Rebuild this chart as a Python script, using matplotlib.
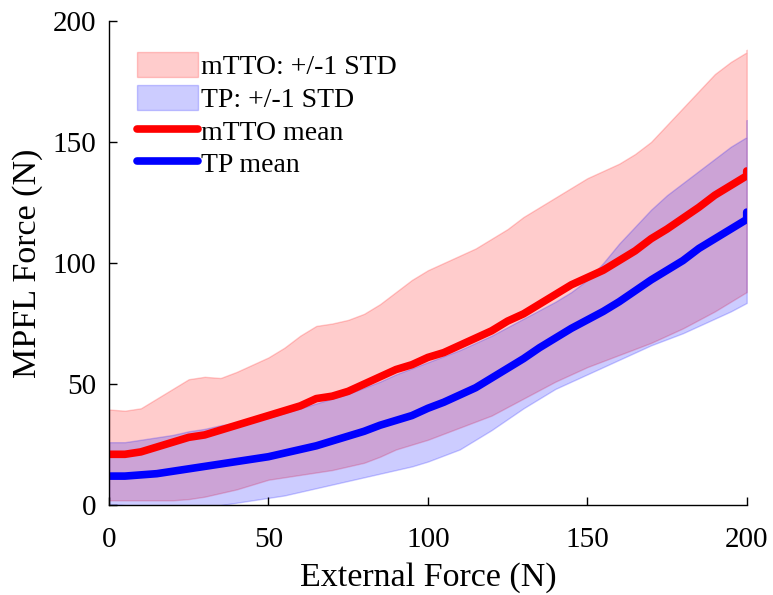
import numpy as np
import matplotlib
matplotlib.use('Agg')
import matplotlib.pyplot as plt

plt.rcParams['font.family'] = ['Liberation Serif', 'DejaVu Serif']

# External force (N); the last point repeats 200 to keep the small end hook
ext_force = [0, 5, 10, 15, 20, 25, 30, 35, 40, 45, 50, 55, 60, 65, 70, 75, 80, 85, 90, 95,
             100, 105, 110, 115, 120, 125, 130, 135, 140, 145, 150, 155, 160, 165, 170, 175,
             180, 185, 190, 195, 200, 200]

mtto_mean = [21, 21, 22, 24, 26, 28, 29, 31, 33, 35, 37, 39, 41, 44, 45, 47, 50, 53, 56, 58,
             61, 63, 66, 69, 72, 76, 79, 83, 87, 91, 94, 97, 101, 105, 110, 114,
             118.5, 123, 128, 132, 136, 138]
mtto_upper = [39.5, 39, 40, 44, 48, 52, 53, 52.5, 55, 58, 61, 65, 70, 74, 75, 76.5, 79, 83, 88, 93,
              97, 100, 103, 106, 110, 114, 119, 123, 127, 131, 135, 138, 141, 145, 150, 157,
              164, 171, 178, 183, 187, 188]
mtto_lower = [2, 2, 2, 2, 2, 2.5, 3.5, 5, 6.5, 8.5, 10.5, 11.5, 12.5, 13.5, 14.5, 16, 17.5, 20, 23, 25,
              27, 29.5, 32, 34.5, 37, 40.5, 44, 47.5, 51, 54, 57, 59.5, 62, 64.5, 67, 70,
              73, 76.5, 80, 84, 88, 88]

tp_mean = [12, 12, 12.5, 13, 14, 15, 16, 17, 18, 19, 20, 21.5, 23, 24.5, 26.5, 28.5, 30.5, 33, 35, 37,
           40, 42.5, 45.5, 48.5, 52.5, 56.5, 60.5, 65, 69, 73, 76.5, 80, 84, 88.5, 93, 97,
           101, 106, 110, 114, 118, 121]
tp_upper = [26, 26, 27, 28, 29, 30.5, 31.5, 33, 34, 35, 36, 38, 40, 42, 44, 46, 48.5, 51, 54, 56.5,
            59, 61.5, 64, 67, 70, 73.5, 77, 80.5, 84, 88, 93, 100, 108, 115, 122, 128,
            133, 138, 143, 148, 152, 159]
tp_lower = [0.5, 0, -1, -2, -3, -3, -1.5, 0, 1, 2, 3, 4, 5.5, 7, 8.5, 10, 11.5, 13, 14.5, 16,
            18, 20.5, 23, 27, 31, 35.5, 40, 44, 48, 51, 54, 57, 60, 63, 66, 68.5,
            71, 74, 77, 80, 83.5, 86]

fig = plt.figure(figsize=(7.73, 5.95), dpi=100)
ax = fig.add_axes([0.141, 0.151, 0.825, 0.814])

ax.fill_between(ext_force, mtto_lower, mtto_upper, facecolor=(1, 0, 0, 0.2),
                edgecolor=(1, 0, 0, 0.2), linewidth=1, label='mTTO: +/-1 STD')
ax.fill_between(ext_force, tp_lower, tp_upper, facecolor=(0, 0, 1, 0.2),
                edgecolor=(0, 0, 1, 0.2), linewidth=1, label='TP: +/-1 STD')
ax.plot(ext_force, mtto_mean, color='red', linewidth=5.5, solid_capstyle='round',
        solid_joinstyle='round', label='mTTO mean')
ax.plot(ext_force, tp_mean, color='blue', linewidth=5.5, solid_capstyle='round',
        solid_joinstyle='round', label='TP mean')

ax.set_xlim(0, 200)
ax.set_ylim(0, 200)
ax.set_xticks([0, 50, 100, 150, 200])
ax.set_yticks([0, 50, 100, 150, 200])
ax.tick_params(direction='in', length=6, width=1, labelsize=21)
ax.tick_params(axis='x', pad=16)
ax.tick_params(axis='y', pad=9)
for side in ['top', 'right']:
    ax.spines[side].set_visible(False)
for side in ['left', 'bottom']:
    ax.spines[side].set_linewidth(1)

ax.set_xlabel('External Force (N)', fontsize=24.5, labelpad=6)
ax.set_ylabel('MPFL Force (N)', fontsize=24.5, labelpad=7)

leg = ax.legend(loc='upper left', bbox_to_anchor=(0.044, 0.935), frameon=False, fontsize=20,
                handlelength=2.2, handleheight=1.0, labelspacing=0.17, handletextpad=0.1,
                borderaxespad=0, borderpad=0)

fig.savefig('out.png', dpi=100)
